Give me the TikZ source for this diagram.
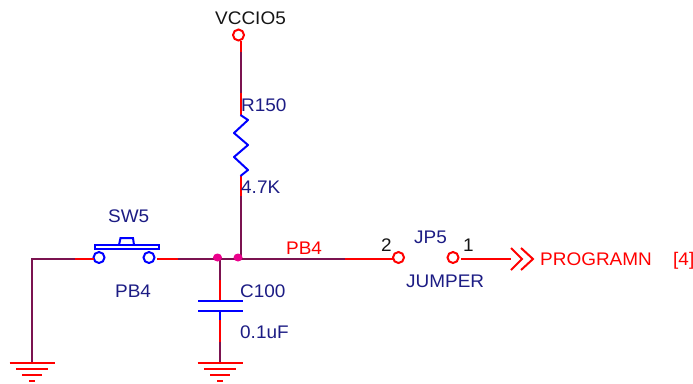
\documentclass[tikz,border=0pt]{standalone}
\usepackage{fontspec}
\setmainfont[FakeStretch=1.04]{Liberation Sans}
\usetikzlibrary{shapes.geometric}
\definecolor{wirep}{HTML}{7B1350}
\definecolor{navyt}{HTML}{1C1C84}
\definecolor{blackt}{HTML}{151515}
\tikzset{
  x=1bp,y=-1bp,
  wire/.style={draw=wirep,line width=2bp},
  pin/.style={draw=red,line width=2bp},
  body/.style={draw=blue,line width=2bp},
  gnd/.style={draw=red,line width=2bp},
  term/.style={circle,draw=#1,line width=2bp,minimum size=11bp,inner sep=0pt,fill=white},
  dotj/.style={ellipse,fill=magenta,minimum width=9bp,minimum height=8bp,inner sep=0pt},
  lbl/.style={inner sep=0pt,anchor=base west,font=\fontsize{18.3}{20}\selectfont,text=navyt},
  lblr/.style={lbl,text=red},
  lblk/.style={lbl,text=blackt}
}
\newcommand{\gndsym}[2]{%
  \draw[gnd] (#1-22.5,#2) -- (#1+22.5,#2);
  \draw[gnd] (#1-16,#2+6) -- (#1+16,#2+6);
  \draw[gnd] (#1-10,#2+12) -- (#1+10,#2+12);
  \draw[gnd] (#1-3,#2+18) -- (#1+3,#2+18);
}
\begin{document}
\begin{tikzpicture}
\useasboundingbox (0,0) rectangle (693,383);
% terminals
\node[term=red] (vcc) at (238.5,35) {};
\node[term=blue] (swl) at (99,257.5) {};
\node[term=blue] (swr) at (149,257.5) {};
\node[term=red] (jp2) at (398.5,257.5) {};
\node[term=red] (jp1) at (453,257.5) {};
% named points
\coordinate (gl) at (32,363);
\coordinate (cn) at (32,259);
\coordinate (w1) at (75,259);
\coordinate (w1e) at (93.5,259);
\coordinate (w2s) at (157,259);
\coordinate (w2) at (178,259);
\coordinate (w3) at (345,259);
\coordinate (w3e) at (393,259);
\coordinate (w4s) at (461,259);
\coordinate (ja) at (220,259);
\coordinate (jb) at (240.5,259);
\coordinate (r00) at (240.5,41);
\coordinate (r0) at (240.5,52);
\coordinate (r1) at (240.5,93);
\coordinate (r2) at (240.5,115);
\coordinate (r3) at (240.5,176);
\coordinate (r4) at (240.5,196);
\coordinate (c0) at (220,280);
\coordinate (c1) at (220,301);
\coordinate (c2) at (220,311);
\coordinate (c3) at (220,320);
\coordinate (c4) at (220,342);
\coordinate (g2) at (220,363);
\coordinate (ar) at (511,259);
% wires
\draw[wire] (gl) -- (cn) -- (w1);
\draw[pin] (w1) -- (w1e);
\draw[pin] (w2s) -- (w2);
\draw[wire] (w2) -- (w3);
\draw[pin] (w3) -- (w3e);
\draw[pin] (w4s) -- (ar);
\draw[pin] (r00) -- (r0);
\draw[wire] (r0) -- (r1);
\draw[pin] (r1) -- (r2);
\draw[pin] (r3) -- (r4);
\draw[wire] (r4) -- (jb);
\draw[wire] (ja) -- (c0);
\draw[pin] (c0) -- (c1);
\draw[body] (c2) -- (c3);
\draw[pin] (c3) -- (c4);
\draw[wire] (c4) -- (g2);
% resistor
\draw[body,line join=round] (r2) -- (248,120) -- (234,133) -- (248,145) -- (234,157) -- (248,170) -- (r3);
% capacitor
\draw[body] (198,301) -- (243,301);
\draw[body] (198,311) -- (243,311);
% switch
\draw[body] (95,245) rectangle (159,249);
\draw[body] (119,245) -- (120.5,238) -- (133,238) -- (134,245);
% grounds
\gndsym{32}{363}
\gndsym{220}{363}
% arrow
\draw[pin] (511,248) -- (522,259) -- (511,270);
\draw[pin] (521,248) -- (533,259) -- (521,270);
% junctions
\node[dotj] (d1) at (217.5,257.5) {};
\node[dotj] (d2) at (238,257.5) {};
% labels
\node[lblk] (t1) at (215,24) {VCCIO5};
\node[lbl] (t2) at (241,111) {R150};
\node[lbl] (t3) at (241,193) {4.7K};
\node[lbl] (t4) at (108,222) {SW5};
\node[lbl] (t5) at (115,297) {PB4};
\node[lbl] (t6) at (240,297) {C100};
\node[lbl] (t7) at (240,338) {0.1uF};
\node[lblr] (t8) at (286,254) {PB4};
\node[lblk] (t9) at (381,251) {2};
\node[lbl] (t10) at (414,243) {JP5};
\node[lblk] (t11) at (463,251) {1};
\node[lbl] (t12) at (406,287) {JUMPER};
\node[lblr] (t13) at (540,265) {PROGRAMN};
\node[lblr] (t14) at (673,265) {[4]};
\end{tikzpicture}
\end{document}
